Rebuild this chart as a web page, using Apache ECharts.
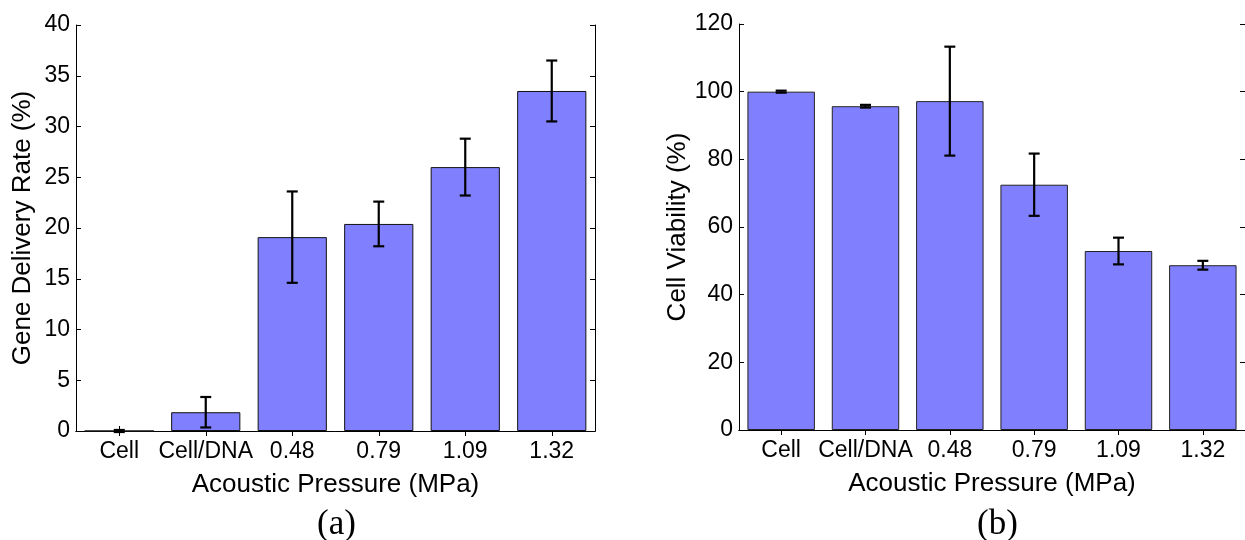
<!DOCTYPE html>
<html>
<head>
<meta charset="utf-8">
<script src="https://cdn.jsdelivr.net/npm/echarts@6/dist/echarts.min.js"></script>
<style>
html,body{margin:0;padding:0;background:#fff;}
#chart{width:1245px;height:540px;}
</style>
</head>
<body>
<div id="chart"></div>
<script>
const categories = ['Cell', 'Cell/DNA', '0.48', '0.79', '1.09', '1.32'];
const deliveryRate = [0, 1.85, 19.1, 20.4, 26.0, 33.5];
const deliveryErr = [0.1, 1.5, 4.5, 2.2, 2.8, 3.0];
const viability = [100, 95.7, 97.2, 72.5, 52.9, 48.7];
const viabilityErr = [0.3, 0.4, 16.1, 9.2, 3.95, 1.3];
const yTicksA = { min: 0, max: 40, interval: 5 };
const yTicksB = { min: 0, max: 120, interval: 20 };
const xTitle = 'Acoustic Pressure (MPa)';
const yTitleA = 'Gene Delivery Rate (%)';
const yTitleB = 'Cell Viability (%)';
const panelLabels = ['(a)', '(b)'];

const FONT = 'Liberation Sans, Arial, sans-serif';
const BAR_COLOR = '#8080ff';

function errData(vals, errs) {
  return vals.map((v, i) => [i, v - errs[i], v + errs[i]]);
}

function errRender(params, api) {
  const lo = api.coord([api.value(0), api.value(1)]);
  const hi = api.coord([api.value(0), api.value(2)]);
  const cw = 5.5;
  const style = { stroke: '#000', lineWidth: 2.2 };
  return {
    type: 'group',
    children: [
      { type: 'line', shape: { x1: lo[0], y1: lo[1], x2: hi[0], y2: hi[1] }, style },
      { type: 'line', shape: { x1: hi[0] - cw, y1: hi[1], x2: hi[0] + cw, y2: hi[1] }, style },
      { type: 'line', shape: { x1: lo[0] - cw, y1: lo[1], x2: lo[0] + cw, y2: lo[1] }, style }
    ]
  };
}

function xAxes(gi) {
  const line = { show: true, lineStyle: { color: '#000', width: 1 } };
  return [
    {
      type: 'category', gridIndex: gi, data: categories, position: 'bottom',
      axisLine: line,
      axisTick: { show: true, inside: true, alignWithLabel: true, interval: 0, length: 5, lineStyle: { color: '#000' } },
      axisLabel: { color: '#000', fontFamily: FONT, fontSize: 23, margin: 9, interval: 0, hideOverlap: false },
      name: xTitle, nameLocation: 'middle', nameGap: 41,
      nameTextStyle: { color: '#000', fontFamily: FONT, fontSize: 26 }
    },
    {
      type: 'category', gridIndex: gi, data: categories, position: 'top',
      axisLine: line,
      axisTick: { show: true, inside: true, alignWithLabel: true, interval: 0, length: 5, lineStyle: { color: '#000' } },
      axisLabel: { show: false }
    }
  ];
}

function yAxes(gi, t, title, gap) {
  const line = { show: true, lineStyle: { color: '#000', width: 1 } };
  return [
    {
      type: 'value', gridIndex: gi, min: t.min, max: t.max, interval: t.interval, position: 'left',
      axisLine: line,
      axisTick: { show: true, inside: true, length: 5, lineStyle: { color: '#000' } },
      splitLine: { show: false },
      axisLabel: { color: '#000', fontFamily: FONT, fontSize: 23, margin: 6 },
      name: title, nameLocation: 'middle', nameGap: gap, nameRotate: 90,
      nameTextStyle: { color: '#000', fontFamily: FONT, fontSize: 26 }
    },
    {
      type: 'value', gridIndex: gi, min: t.min, max: t.max, interval: t.interval, position: 'right',
      axisLine: line,
      axisTick: { show: true, inside: true, length: 5, lineStyle: { color: '#000' } },
      splitLine: { show: false },
      axisLabel: { show: false }
    }
  ];
}

const chart = echarts.init(document.getElementById('chart'), null, { renderer: 'canvas' });
chart.setOption({
  animation: false,
  backgroundColor: '#fff',
  grid: [
    { left: 76, top: 25, width: 519, height: 406 },
    { left: 739, top: 24, width: 518, height: 406 }
  ],
  xAxis: [...xAxes(0), ...xAxes(1)],
  yAxis: [...yAxes(0, yTicksA, yTitleA, 40), ...yAxes(1, yTicksB, yTitleB, 45)],
  graphic: [
    { type: 'text', left: 317, top: 507, style: { text: panelLabels[0], font: '35px "Liberation Serif", "Times New Roman", serif', fill: '#000' } },
    { type: 'text', left: 977, top: 507, style: { text: panelLabels[1], font: '35px "Liberation Serif", "Times New Roman", serif', fill: '#000' } }
  ],
  series: [
    {
      type: 'bar', xAxisIndex: 0, yAxisIndex: 0, data: deliveryRate, barCategoryGap: '20%',
      itemStyle: { color: BAR_COLOR, borderColor: '#111', borderWidth: 1 }, z: 3
    },
    {
      type: 'custom', xAxisIndex: 0, yAxisIndex: 0, data: errData(deliveryRate, deliveryErr),
      renderItem: errRender, encode: { x: 0, y: [1, 2] }, z: 5
    },
    {
      type: 'bar', xAxisIndex: 2, yAxisIndex: 2, data: viability, barCategoryGap: '20%',
      itemStyle: { color: BAR_COLOR, borderColor: '#222', borderWidth: 1 }, z: 3
    },
    {
      type: 'custom', xAxisIndex: 2, yAxisIndex: 2, data: errData(viability, viabilityErr),
      renderItem: errRender, encode: { x: 0, y: [1, 2] }, z: 5
    }
  ]
});
</script>
</body>
</html>
